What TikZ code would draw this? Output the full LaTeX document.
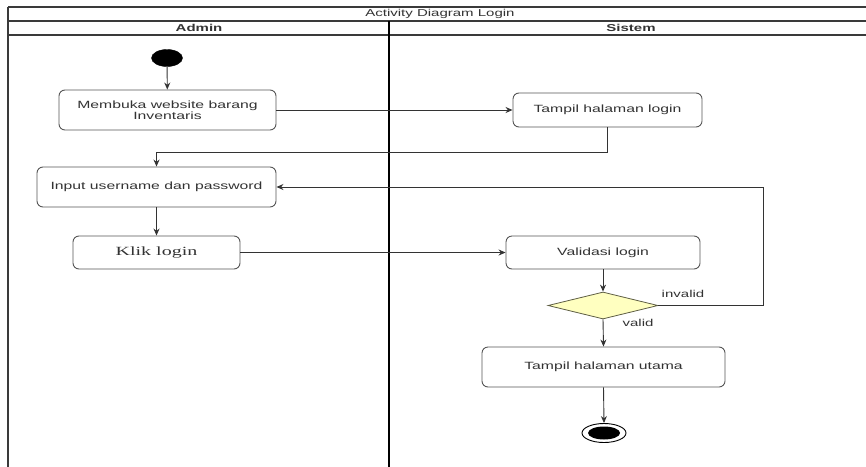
\documentclass[tikz,border=0pt]{standalone}
\usepackage{fontspec}
\setmainfont{Liberation Sans}
\newfontfamily\wsans[FakeStretch=1.5]{Liberation Sans}
\newfontfamily\wserif[FakeStretch=1.6]{Liberation Serif}
\usetikzlibrary{shapes.geometric,arrows.meta}

\definecolor{txt}{HTML}{333333}
\definecolor{edge}{HTML}{555555}
\definecolor{lane}{HTML}{3A3A3A}
\definecolor{decfill}{HTML}{FFFFC0}

\tikzset{
  activity/.style={draw=edge, line width=0.9pt, rounded corners=6pt, rectangle,
    fill=white, text=txt, font=\wsans\fontsize{10.5}{12}\selectfont, align=center,
    inner sep=0pt},
  startstate/.style={ellipse, draw=black, fill=black, inner sep=0pt,
    minimum width=31pt, minimum height=17pt},
  endouter/.style={ellipse, draw=black, line width=0.9pt, fill=white, inner sep=0pt,
    minimum width=44pt, minimum height=19pt},
  endinner/.style={ellipse, fill=black, inner sep=0pt,
    minimum width=32pt, minimum height=13pt},
  decision/.style={diamond, draw=edge!80!olive, line width=0.8pt, fill=decfill,
    inner sep=0pt, minimum width=110pt, minimum height=27pt},
  flow/.style={draw=txt, line width=0.9pt, -{Stealth[length=7pt,width=6pt]}},
  guard/.style={text=txt, font=\wsans\fontsize{10}{12}\selectfont, inner sep=0pt},
  frameline/.style={draw=lane, line width=1.1pt},
  header/.style={text=txt, inner sep=0pt, font=\wsans\fontsize{10}{12}\selectfont},
}

\begin{document}
\begin{tikzpicture}[x=1pt, y=-1pt]
  \useasboundingbox (0,0) rectangle (866,466);
  \clip (0,0) rectangle (866,466);

  % swimlane frame
  \draw[frameline] (8,7) -- (880,7);
  \draw[frameline] (8,21) -- (880,21);
  \draw[frameline] (8,35) -- (880,35);
  \draw[frameline] (8,7) -- (8,480);
  \draw[frameline, draw=black] (389,21) -- (389,480);
  \node[header] (title) at (440,14) {Activity Diagram Login};
  \node[header, font=\wsans\bfseries\fontsize{10}{12}\selectfont] (admin) at (199,28) {Admin};
  \node[header, font=\wsans\bfseries\fontsize{10}{12}\selectfont] (sistem) at (631,28) {Sistem};

  % activities
  \node[startstate] (start) at (167,58) {};
  \node[activity, minimum width=217pt, minimum height=40pt] (open) at (167.5,110)
    {Membuka website barang\\[-1pt]Inventaris};
  \node[activity, minimum width=189pt, minimum height=34pt] (tlogin) at (607.5,110)
    {Tampil halaman login};
  \node[activity, minimum width=239pt, minimum height=40pt] (input) at (156.5,187)
    {Input username dan password};
  \node[activity, minimum width=167pt, minimum height=33pt,
    font=\wserif\fontsize{12.5}{14}\selectfont] (klik) at (156.5,252.5) {Klik login};
  \node[activity, minimum width=194pt, minimum height=33pt] (valid) at (603,252.5)
    {Validasi login};
  \node[decision] (dec) at (603,305.5) {};
  \node[activity, minimum width=243pt, minimum height=40pt] (home) at (603.5,367)
    {Tampil halaman utama};
  \node[endouter] (endo) at (604,433) {};
  \node[endinner] (endi) at (604,433) {};

  % helper points for the routed connectors
  \coordinate (back) at (0,152);
  \coordinate (loopx) at (763,0);

  % control flow
  \draw[flow] (start) -- (open);
  \draw[flow] (open.east) -- (tlogin.west);
  \draw[flow] (tlogin.south) |- (input.north |- back) -- (input.north);
  \draw[flow] (input.south) -- (klik.north);
  \draw[flow] (klik.east) -- (valid.west);
  \draw[flow] (valid.south) -- (dec.north);
  \draw[flow] (dec.east) -- (dec.east -| loopx) -- (loopx |- input.east) -- (input.east);
  \draw[flow] (dec.south) -- (home.north);
  \draw[flow] (home.south) -- (endo.north);

  % guards
  \node[guard] (ginvalid) at (683,294) {invalid};
  \node[guard] (gvalid) at (638,323) {valid};
\end{tikzpicture}
\end{document}
